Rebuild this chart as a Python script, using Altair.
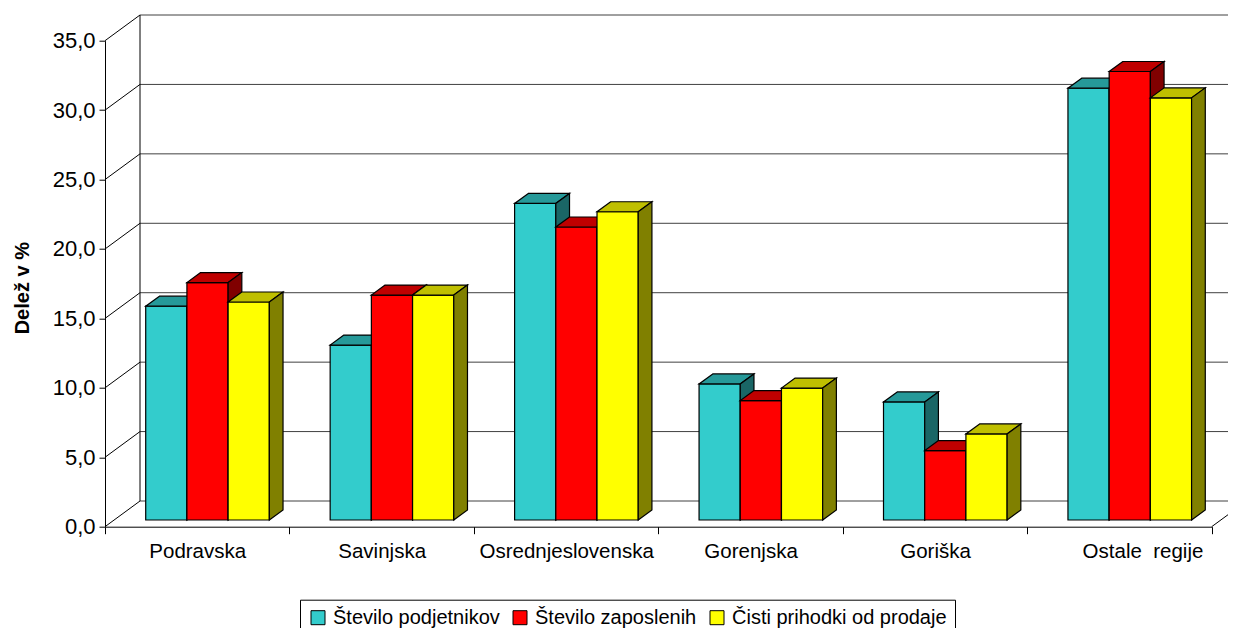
import json
import altair as alt
import pandas as pd

# ---------------- data ----------------
categories = ["Podravska", "Savinjska", "Osrednjeslovenska", "Gorenjska", "Goriška",
              "Ostale\u00a0 regije"]
series_names = ["Število podjetnikov", "Število zaposlenih", "Čisti prihodki od prodaje"]
podjetniki = [15.4, 12.6, 22.8, 9.8, 8.5, 31.1]
zaposleni = [17.1, 16.2, 21.1, 8.6, 5.0, 32.3]
prihodki = [15.7, 16.2, 22.2, 9.5, 6.2, 30.4]
y_ticks = [0, 5, 10, 15, 20, 25, 30, 35]

# ---------------- styling ----------------
front_col = ["#33CCCC", "#FF0000", "#FFFF00"]
top_col = ["#269999", "#BF0000", "#BFBF00"]
side_col = ["#1A6666", "#800000", "#808000"]
FONT = "Liberation Sans"

PLOT_W = 1106.7
PLOT_H = 486.0
N = len(categories)
YMAX = y_ticks[-1]
HALF = PLOT_W / N / 2

# pseudo-3D projection constants (category units / value units)
DEPTH_X = 35.0 / (PLOT_W / N)
DEPTH_Y = 25.7 / (PLOT_H / YMAX)
BAR_OFF = 0.2207
BAR_W = 0.2234
BAR_DX = 0.0743
BAR_DY = 0.72
BASE = 0.4825

values = [podjetniki, zaposleni, prihodki]
rows = []
for sj, s in enumerate(series_names):
    for ci, c in enumerate(categories):
        for t in (0, 1):
            rows.append({"cat": c, "ci": ci, "series": s, "sj": sj,
                         "value": values[sj][ci], "t": t})
bars_df = pd.DataFrame(rows)
ticks_df = pd.DataFrame({"v": y_ticks})

xs = alt.Scale(domain=[0, N], nice=False, zero=False)
ys = alt.Scale(domain=[0, YMAX], nice=False, zero=False)

label_expr = "(" + json.dumps(categories, ensure_ascii=False) + ")[datum.value] || ''"

x_axis = alt.Axis(values=list(range(N + 1)), labelExpr=label_expr,
                  labelOffset={"condition": {"test": f"datum.value == {N - 1}", "value": HALF + 23},
                               "value": HALF},
                  tickSize=7, tickColor="black", domainColor="black", labelColor="black",
                  labelFontSize=20.5, labelFont=FONT, labelPadding=24, labelBaseline="alphabetic",
                  labelOverlap=False, labelFlush=False, grid=False, title=None, labelLimit=0)
y_axis = alt.Axis(values=y_ticks, format=".1f", labelExpr="replace(datum.label, '.', ',')",
                  tickSize=6, tickColor="black", domainColor="black", labelColor="black",
                  labelFontSize=22, labelFont=FONT, labelPadding=4, grid=False,
                  title="Delež v %", titleFont=FONT, titleFontSize=20, titleFontWeight="bold",
                  titleColor="black", titleAngle=270, titleX=-77, titleY=247,
                  titleAlign="center", titleBaseline="alphabetic")


def X(field):
    return alt.X(field, scale=xs, axis=x_axis)


def Y(field):
    return alt.Y(field, scale=ys, axis=y_axis)


# ---------------- frame (walls) ----------------
left_wall = alt.Chart(ticks_df).transform_calculate(
    x0="0", x1=str(DEPTH_X), y0="datum.v", y1=f"datum.v + {DEPTH_Y}"
).mark_rule(color="black", strokeWidth=1).encode(
    x=X("x0:Q"), x2="x1:Q", y=Y("y0:Q"), y2="y1:Q",
)

back_grid = alt.Chart(ticks_df).transform_calculate(
    x0=str(DEPTH_X), x1=f"{N} + {DEPTH_X}", yb=f"datum.v + {DEPTH_Y}"
).mark_rule(color="#404040", strokeWidth=1).encode(
    x=X("x0:Q"), x2="x1:Q", y=Y("yb:Q"),
)

back_vert = alt.Chart(ticks_df).transform_filter("datum.v == 0").transform_calculate(
    x0=str(DEPTH_X), y0=str(DEPTH_Y), y1=f"{YMAX} + {DEPTH_Y}"
).mark_rule(color="black", strokeWidth=1).encode(
    x=X("x0:Q"), y=Y("y0:Q"), y2="y1:Q",
)

right_floor = alt.Chart(ticks_df).transform_filter("datum.v == 0").transform_calculate(
    x0=str(N), x1=f"{N} + {DEPTH_X}", y0="0", y1=str(DEPTH_Y)
).mark_rule(color="black", strokeWidth=1).encode(
    x=X("x0:Q"), x2="x1:Q", y=Y("y0:Q"), y2="y1:Q",
)

# ---------------- bars ----------------
base = alt.Chart(bars_df).transform_calculate(
    x0=f"datum.ci + {BAR_OFF} + datum.sj * {BAR_W}",
).transform_calculate(
    x1=f"datum.x0 + {BAR_W}",
    yb=str(BASE),
    yt=f"datum.value + {BASE}",
).transform_calculate(
    tx0=f"datum.x0 + datum.t * {BAR_DX}",
    tx1=f"datum.x1 + datum.t * {BAR_DX}",
    ty=f"datum.yt + datum.t * {BAR_DY}",
    sx=f"datum.x1 + datum.t * {BAR_DX}",
    sy0=f"datum.yb + datum.t * {BAR_DY}",
    sy1=f"datum.yt + datum.t * {BAR_DY}",
)

legend = alt.Legend(orient="none", legendX=195, legendY=559, direction="horizontal", title=None,
                    symbolType="square", symbolSize=196, symbolStrokeColor="black",
                    symbolStrokeWidth=1, labelFontSize=20, labelFont=FONT, labelColor="black",
                    strokeColor="black", padding=8, columnPadding=10, labelOffset=5,
                    fillColor="white", labelLimit=0)

bar_layers = []
for j in range(3):
    front = base.transform_filter(f"datum.sj == {j} && datum.t == 0").mark_rect(
        stroke="black", strokeWidth=1.2, opacity=1
    ).encode(
        x=X("x0:Q"), x2="x1:Q", y=Y("yb:Q"), y2="yt:Q",
        color=alt.Color("series:N", scale=alt.Scale(domain=series_names, range=front_col),
                        legend=legend),
    )
    top = base.transform_filter(f"datum.sj == {j}").mark_area(
        orient="horizontal", fill=top_col[j], stroke="black", strokeWidth=1.2, opacity=1
    ).encode(
        y=Y("ty:Q"), x=X("tx0:Q"), x2="tx1:Q", detail="ci:N",
    )
    side = base.transform_filter(f"datum.sj == {j}").mark_area(
        orient="vertical", fill=side_col[j], stroke="black", strokeWidth=1.2, opacity=1
    ).encode(
        x=X("sx:Q"), y=Y("sy0:Q"), y2="sy1:Q", detail="ci:N",
    )
    bar_layers += [front, top, side]

chart = alt.layer(left_wall, back_grid, back_vert, right_floor, *bar_layers).properties(
    width=PLOT_W,
    height=PLOT_H,
    padding={"left": 97, "top": 32.7, "right": 16.3, "bottom": 101.3},
    autosize=alt.AutoSizeParams(type="none"),
    background="white",
).configure_view(strokeWidth=0)

chart.save("out.html", embed_options={"renderer": "svg", "actions": False})
